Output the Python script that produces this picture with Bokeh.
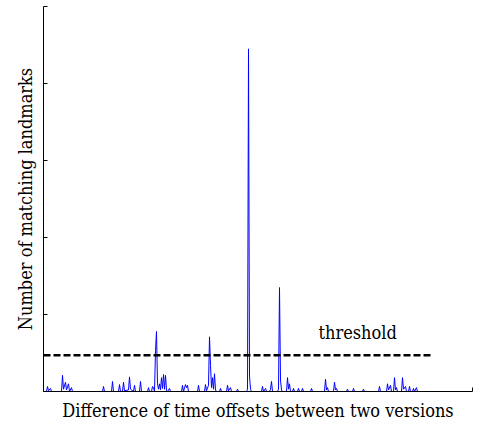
from bokeh.plotting import figure
from bokeh.models import Range1d, FixedTicker, CustomJSTickFormatter
from bokeh.core.properties import value
from bokeh.embed import file_html
from bokeh.resources import INLINE

# Histogram of time-offset differences (offset index, number of matching landmarks)
offsets = [0, 3, 4, 5, 7, 8,
           18, 19, 20, 22, 23, 25, 26, 28, 29,
           59, 60, 61, 68, 69, 70, 75, 76, 77,
           79, 80, 81, 85, 86, 87, 90, 91, 92, 96, 97, 98,
           104, 105, 106, 108, 109, 110, 111, 112, 113, 114, 115, 116, 117,
           118, 119, 120, 121, 122, 123, 124, 126, 127,
           138, 139, 140, 142, 143, 144, 145, 154, 155, 156,
           161, 162, 163, 165, 166, 167, 168, 169, 170, 171, 172, 173,
           176, 177, 178, 183, 184, 185, 187, 188, 193, 194, 195,
           203, 204, 205, 206, 207, 208,
           218, 219, 220, 222, 223, 226, 227, 228, 229,
           234, 235, 236, 237, 238, 239, 243, 244, 245, 246, 247,
           249, 250, 251, 254, 255, 256, 258, 259, 260, 267, 268, 269,
           281, 282, 283, 284, 285, 290, 291, 292, 293, 294,
           303, 304, 305, 309, 310, 311, 319, 320, 321,
           335, 336, 337, 343, 344, 345, 347, 348,
           350, 351, 352, 353, 354, 358, 359, 360, 362, 363,
           365, 366, 367, 369, 370, 371, 373, 374, 377]
counts = [0, 0, 0.65, 0.1, 0.4, 0,
          0, 2.1, 0.3, 1.2, 0.2, 1.0, 0, 0.5, 0,
          0, 0.65, 0, 0, 1.3, 0, 0, 0.9, 0,
          0, 1.2, 0.1, 0.2, 1.9, 0.3, 0, 0.8, 0, 0, 1.3, 0,
          0, 0.5, 0, 0, 0.65, 0.5, 0, 5.3, 7.8, 1.0, 0.3, 1.0, 0.2,
          1.8, 0.4, 2.2, 0.3, 2.1, 0.1, 0, 0.4, 0,
          0, 0.8, 0, 0.9, 0.5, 0.8, 0, 0, 0.8, 0,
          0, 0.9, 0.1, 0.8, 7.1, 3.4, 0.5, 1.8, 0.3, 2.3, 0.2, 0,
          0, 0.4, 0, 0, 0.8, 0.1, 0.5, 0, 0, 0.3, 0,
          0, 0.3, 44.5, 2.0, 0.3, 0,
          0, 0.65, 0, 0.4, 0, 0, 0.3, 1.3, 0,
          0, 0.3, 13.5, 1.5, 0.2, 0, 0, 1.8, 0.3, 1.0, 0,
          0, 0.4, 0, 0, 0.4, 0, 0, 0.4, 0, 0, 0.4, 0,
          0, 1.6, 0.2, 0.5, 0, 0, 1.2, 0.2, 0.4, 0,
          0, 0.3, 0, 0, 0.4, 0, 0, 0.3, 0,
          0, 0.65, 0, 0, 1.0, 0.2, 0.8, 0,
          0, 1.8, 0.2, 0.5, 0, 0, 1.8, 0.3, 0.65, 0,
          0, 0.65, 0, 0, 0.4, 0, 0.5, 0, 0]

threshold = 4.7
threshold_span = [0, 390]
threshold_label = "threshold"
threshold_label_pos = (275, 7.6)

x_label = "Difference of time offsets between two versions"
y_label = "Number of matching landmarks"
x_ticks = [0, 429]
y_ticks = [0, 10, 20, 30, 40, 50]

SERIF = "DejaVu Serif Condensed"

p = figure(width=478, height=426, output_backend="svg", toolbar_location=None,
           x_range=Range1d(0, 429), y_range=Range1d(0, 50),
           min_border_left=43, min_border_right=6, min_border_top=6, min_border_bottom=35)
p.outline_line_color = None
p.grid.visible = False
p.background_fill_color = "white"
p.border_fill_color = "white"

p.line(offsets, counts, line_color="#0000ff", line_width=1)
p.line(threshold_span, [threshold, threshold], line_color="black", line_width=2.5,
       line_dash="7 3")
p.text([threshold_label_pos[0]], [threshold_label_pos[1]], text=[threshold_label],
       text_font=value(SERIF), text_font_size="18px", text_color="black",
       text_baseline="alphabetic", text_align="left")

fmt = CustomJSTickFormatter(code="return ''")
for ax, ticks in ((p.xaxis, x_ticks), (p.yaxis, y_ticks)):
    ax.ticker = FixedTicker(ticks=ticks)
    ax.formatter = fmt
    ax.major_tick_in = 4
    ax.major_tick_out = 0
    ax.minor_tick_line_color = None
    ax.major_label_standoff = 0
    ax.axis_line_color = "black"
    ax.major_tick_line_color = "black"
    ax.axis_label_text_font = SERIF
    ax.axis_label_text_font_size = "18px"
    ax.axis_label_text_font_style = "normal"
    ax.axis_label_text_color = "black"

p.xaxis.axis_label = x_label
p.yaxis.axis_label = y_label
p.xaxis.axis_label_standoff = 8
p.yaxis.axis_label_standoff = 8

open("out.html", "w").write(file_html(p, INLINE))
